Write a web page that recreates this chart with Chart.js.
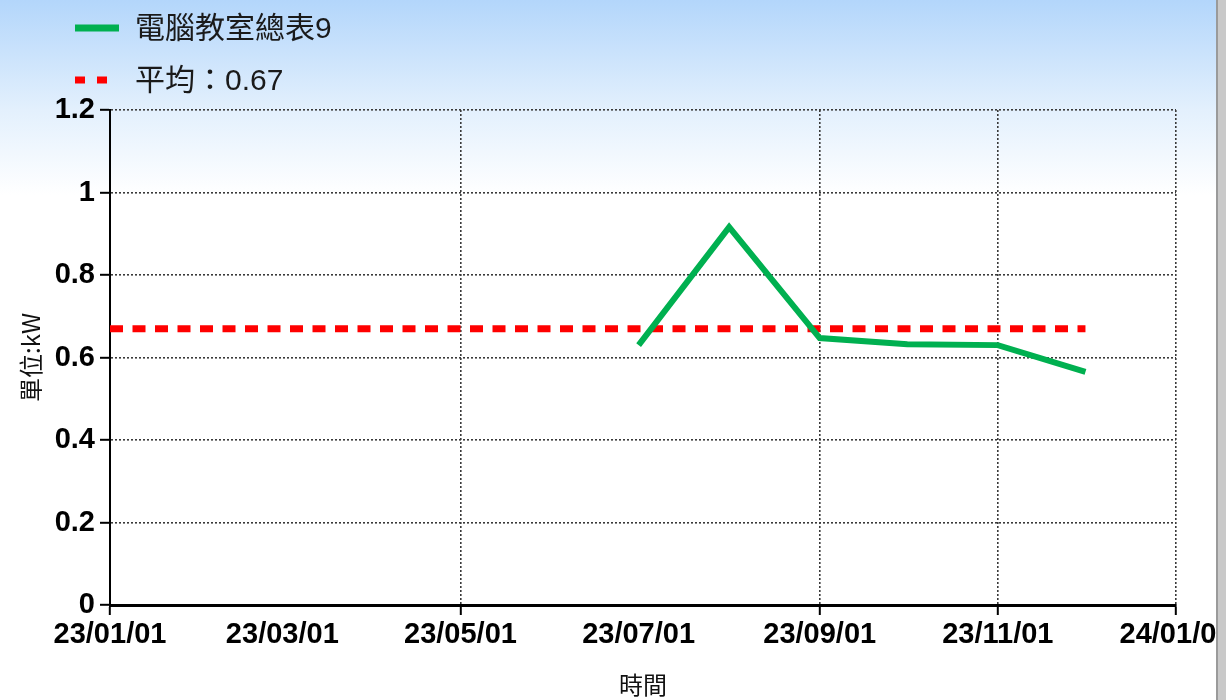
<!DOCTYPE html>
<html>
<head>
<meta charset="utf-8">
<script src="https://cdn.jsdelivr.net/npm/chart.js@4"></script>
<style>
  html, body { margin: 0; padding: 0; }
  body { width: 1226px; height: 700px; background: #c9c9c9; overflow: hidden; }
  #wrap {
    position: relative; width: 1216px; height: 700px; overflow: hidden;
    border-right: 2px solid #9a9a9a;
    background: linear-gradient(#b3d6fb 0px, #e3f0fd 110px, #ffffff 195px);
  }
  #chart { position: absolute; left: 0; top: 0; }
  #legend { position: absolute; left: 75px; top: 8px; font-family: "Liberation Sans", "Noto Sans CJK TC", sans-serif; font-size: 30px; color: #1a1a1a; }
  .item { position: relative; height: 52px; }
  .item span.txt { position: absolute; left: 60px; top: 0; line-height: 40px; white-space: nowrap; }
  .item canvas { position: absolute; left: 0; top: 14px; }
</style>
</head>
<body>
<div id="wrap">
  <canvas id="chart" width="1290" height="700"></canvas>
  <div id="legend"></div>
</div>
<script>
// Monthly readings (first of each month)
const months = ['2023-01-01', '2023-02-01', '2023-03-01', '2023-04-01', '2023-05-01', '2023-06-01',
                '2023-07-01', '2023-08-01', '2023-09-01', '2023-10-01', '2023-11-01', '2023-12-01'];
const usage = [null, null, null, null, null, null, 0.63, 0.916, 0.647, 0.632, 0.63, 0.565];
const average = [0.67, 0.67, 0.67, 0.67, 0.67, 0.67, 0.67, 0.67, 0.67, 0.67, 0.67, 0.67];

const seriesName = '電腦教室總表9';
const avgName = '平均：0.67';

// x axis ticks
const tickDates = ['2023-01-01', '2023-03-01', '2023-05-01', '2023-07-01', '2023-09-01', '2023-11-01', '2024-01-01'];
const tickLabels = ['23/01/01', '23/03/01', '23/05/01', '23/07/01', '23/09/01', '23/11/01', '24/01/01'];
const yTicks = [0, 0.2, 0.4, 0.6, 0.8, 1, 1.2];
const yTickLabels = ['0', '0.2', '0.4', '0.6', '0.8', '1', '1.2'];

// days since start date, used as the linear x value
const startDate = Date.parse(tickDates[0]);
function dayOf(s) {
    return (Date.parse(s) - startDate) / 86400000;
}
const tickDays = tickDates.map(dayOf);
const noGrid = [1, 3]; // ticks drawn without grid line in the original

const tickFont = { family: '"Liberation Sans", Arial, sans-serif', size: 29, weight: 'bold' };
const titleFont = { family: '"Noto Sans CJK TC", sans-serif', size: 24 };

function gridColor(ctx) {
    if (noGrid.indexOf(ctx.index) >= 0) return 'rgba(0,0,0,0)';
    return '#3a3a3a';
}
function tickColor(ctx) {
    if (noGrid.indexOf(ctx.index) >= 0) return 'rgba(0,0,0,0)';
    return '#000';
}

let ctx = document.getElementById('chart').getContext('2d');
let myChart = new Chart(ctx, {
    type: 'line',
    data: {
        datasets: [{
            label: seriesName,
            data: months.map((m, i) => ({ x: dayOf(m), y: usage[i] })),
            borderColor: '#00b050',
            backgroundColor: '#00b050',
            borderWidth: 6,
            pointRadius: 0,
            tension: 0
        }, {
            label: avgName,
            data: months.map((m, i) => ({ x: dayOf(m), y: average[i] })),
            borderColor: '#ff0000',
            backgroundColor: '#ff0000',
            borderWidth: 7,
            borderDash: [13, 9.5],
            borderCapStyle: 'butt',
            pointRadius: 0,
            tension: 0
        }]
    },
    options: {
        responsive: false,
        animation: false,
        layout: { padding: { left: 0, top: 110, right: 114, bottom: 0 } },
        plugins: {
            legend: { display: false },
            tooltip: { enabled: false }
        },
        scales: {
            x: {
                type: 'linear',
                min: tickDays[0],
                max: tickDays[tickDays.length - 1],
                afterBuildTicks: function(scale) {
                    scale.ticks = tickDays.map(v => ({ value: v }));
                },
                afterFit: function(scale) { scale.height = 95; },
                ticks: {
                    autoSkip: false,
                    maxRotation: 0,
                    color: '#000',
                    font: tickFont,
                    padding: 3,
                    callback: function(value, index) { return tickLabels[index]; }
                },
                grid: {
                    color: gridColor,
                    lineWidth: 1.6,
                    tickColor: tickColor,
                    tickWidth: 2,
                    tickLength: 10,
                    tickBorderDash: []
                },
                border: { display: true, color: '#000', width: 3, dash: [2, 2] },
                title: {
                    display: true,
                    text: '時間',
                    color: '#111',
                    font: titleFont,
                    padding: { top: 0, bottom: 1 }
                }
            },
            y: {
                min: 0,
                max: 1.2,
                afterBuildTicks: function(scale) {
                    scale.ticks = yTicks.map(v => ({ value: v }));
                },
                afterFit: function(scale) { scale.width = 110; },
                ticks: {
                    color: '#000',
                    font: tickFont,
                    padding: 5,
                    callback: function(value, index) { return yTickLabels[index]; }
                },
                grid: {
                    color: '#3a3a3a',
                    lineWidth: 1.6,
                    tickColor: '#000',
                    tickWidth: 2,
                    tickLength: 10,
                    tickBorderDash: []
                },
                border: { display: true, color: '#000', width: 2, dash: [2, 2] },
                title: {
                    display: true,
                    text: '單位:kW',
                    color: '#111',
                    font: titleFont,
                    padding: { top: 16, bottom: 0 }
                }
            }
        }
    }
});

// Legend in HTML, built from the datasets
const legend = document.getElementById('legend');
myChart.data.datasets.forEach(function(ds) {
    let item = document.createElement('div');
    item.className = 'item';
    let sample = document.createElement('canvas');
    sample.width = 44;
    sample.height = 12;
    let sctx = sample.getContext('2d');
    sctx.strokeStyle = ds.borderColor;
    sctx.lineWidth = 7;
    if (ds.borderDash) sctx.setLineDash([10, 12]);
    sctx.beginPath();
    sctx.moveTo(0, 6);
    sctx.lineTo(ds.borderDash ? 34 : 44, 6);
    sctx.stroke();
    item.appendChild(sample);
    let txt = document.createElement('span');
    txt.className = 'txt';
    txt.textContent = ds.label;
    item.appendChild(txt);
    legend.appendChild(item);
});
</script>
</body>
</html>
